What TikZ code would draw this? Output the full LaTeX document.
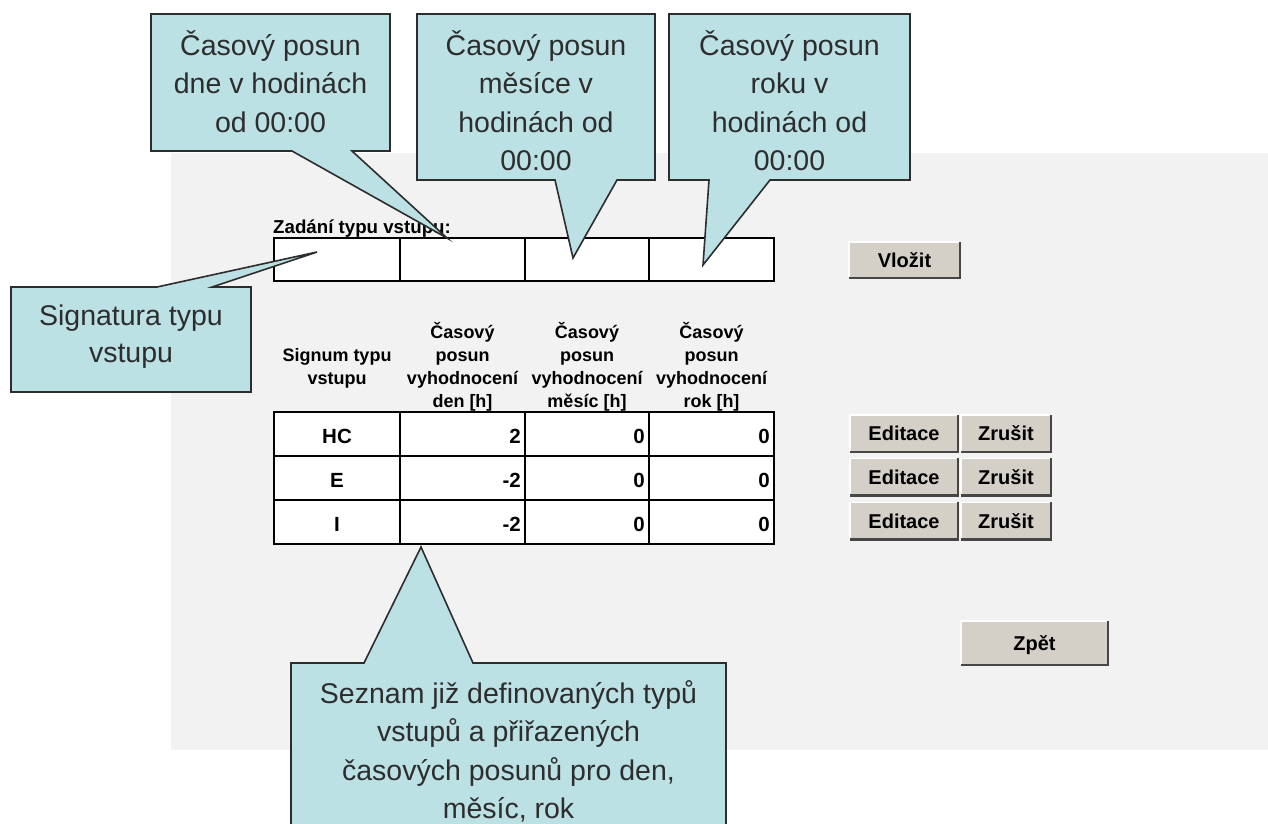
\documentclass[tikz,border=0pt]{standalone}
\usepackage{fontspec}
\setmainfont{Liberation Sans}
\definecolor{cfill}{RGB}{188,225,229}
\definecolor{cline}{RGB}{45,45,45}
\definecolor{ctext}{RGB}{45,45,45}
\definecolor{panel}{RGB}{242,242,242}
\definecolor{btn}{RGB}{212,208,200}
\definecolor{btndark}{RGB}{70,70,70}
\newcommand\btnedges[1]{%
  \draw[white,line width=1.5pt] (#1.south west) -- (#1.north west) -- (#1.north east);
  \draw[btndark,line width=2.5pt] (#1.south west) -- (#1.south east) -- (#1.north east);}
\begin{document}
\begin{tikzpicture}[x=1pt,y=-1pt,
  callout/.style={fill=cfill,draw=cline,line width=1.6pt,line join=miter},
  ctxt/.style={text=ctext,font=\fontsize{28.5}{34}\selectfont,inner sep=0pt,anchor=base},
  cellbox/.style={draw=black,line width=2.8pt,fill=white,inner sep=0pt,outer sep=0pt},
  lbl/.style={font=\bfseries\fontsize{18.7}{22}\selectfont,inner sep=0pt},
  hdr/.style={font=\bfseries\fontsize{18}{22}\selectfont,inner sep=0pt,anchor=base},
  val/.style={font=\bfseries\fontsize{20.5}{22}\selectfont,inner sep=0pt,anchor=base east},
  cval/.style={font=\bfseries\fontsize{20.5}{22}\selectfont,inner sep=0pt,anchor=base},
  btnbox/.style={fill=btn,inner sep=0pt,font=\bfseries\fontsize{20}{22}\selectfont,text height=14pt,text depth=0pt}
]
\useasboundingbox (0,0) rectangle (1268,823);
\clip (0,0) rectangle (1268,823);
\fill[white] (0,0) rectangle (1268,823);
\fill[panel] (171,153) rectangle (1268,750);

% input row
\node[lbl,anchor=base west] (zadani) at (273,233) {Zadání typu vstupu:};
\node[cellbox,minimum width=126pt,minimum height=43pt] (in1) at (337,259.5) {};
\node[cellbox,minimum width=125pt,minimum height=43pt] (in2) at (462.5,259.5) {};
\node[cellbox,minimum width=124pt,minimum height=43pt] (in3) at (587,259.5) {};
\node[cellbox,minimum width=125pt,minimum height=43pt] (in4) at (711.5,259.5) {};

\node[btnbox,minimum width=111pt,minimum height=36pt] (vlozit) at (904.5,260) {Vložit};
\btnedges{vlozit}

% header
\node[hdr] (h1a) at (337,361) {Signum typu};
\node[hdr] (h1b) at (337,384) {vstupu};
\node[hdr] (h2a) at (462.5,338) {Časový};
\node[hdr] (h2b) at (462.5,361) {posun};
\node[hdr] (h2c) at (462.5,384) {vyhodnocení};
\node[hdr] (h2d) at (462.5,407) {den [h]};
\node[hdr] (h3a) at (587,338) {Časový};
\node[hdr] (h3b) at (587,361) {posun};
\node[hdr] (h3c) at (587,384) {vyhodnocení};
\node[hdr] (h3d) at (587,407) {měsíc [h]};
\node[hdr] (h4a) at (711.5,338) {Časový};
\node[hdr] (h4b) at (711.5,361) {posun};
\node[hdr] (h4c) at (711.5,384) {vyhodnocení};
\node[hdr] (h4d) at (711.5,407) {rok [h]};

% data table
\foreach \r/\y in {1/434,2/478,3/522}{
  \node[cellbox,minimum width=126pt,minimum height=44pt] (d\r1) at (337,\y) {};
  \node[cellbox,minimum width=125pt,minimum height=44pt] (d\r2) at (462.5,\y) {};
  \node[cellbox,minimum width=124pt,minimum height=44pt] (d\r3) at (587,\y) {};
  \node[cellbox,minimum width=125pt,minimum height=44pt] (d\r4) at (711.5,\y) {};
}
\node[cval] (v11) at ([yshift=-9pt]d11.center) {HC};
\node[val] (v12) at ([xshift=-4pt,yshift=-9pt]d12.east) {2};
\node[val] (v13) at ([xshift=-4pt,yshift=-9pt]d13.east) {0};
\node[val] (v14) at ([xshift=-4pt,yshift=-9pt]d14.east) {0};
\node[cval] (v21) at ([yshift=-9pt]d21.center) {E};
\node[val] (v22) at ([xshift=-4pt,yshift=-9pt]d22.east) {-2};
\node[val] (v23) at ([xshift=-4pt,yshift=-9pt]d23.east) {0};
\node[val] (v24) at ([xshift=-4pt,yshift=-9pt]d24.east) {0};
\node[cval] (v31) at ([yshift=-9pt]d31.center) {I};
\node[val] (v32) at ([xshift=-4pt,yshift=-9pt]d32.east) {-2};
\node[val] (v33) at ([xshift=-4pt,yshift=-9pt]d33.east) {0};
\node[val] (v34) at ([xshift=-4pt,yshift=-9pt]d34.east) {0};

% buttons
\foreach \r/\y in {1/433.5,2/477,3/521}{
  \node[btnbox,minimum width=108pt,minimum height=37pt] (ed\r) at (904,\y) {Editace};
  \btnedges{ed\r}
  \node[btnbox,minimum width=90pt,minimum height=37pt] (zr\r) at (1006,\y) {Zrušit};
  \btnedges{zr\r}
}
\node[btnbox,minimum width=147pt,minimum height=44pt] (zpet) at (1034.5,643) {Zpět};
\btnedges{zpet}

% callouts
\draw[callout] (151,14) -- (390,14) -- (390,151) -- (352,151) -- (447,238) -- (292,151) -- (151,151) -- cycle;
\foreach \t [count=\i] in {{Časový posun},{dne v hodinách},{od 00:00}}
  \node[ctxt] (ca\i) at (270.5,{55+38.5*(\i-1)}) {\t};

\draw[callout] (417,14) -- (655,14) -- (655,180) -- (617,180) -- (573,258) -- (555,180) -- (417,180) -- cycle;
\foreach \t [count=\i] in {{Časový posun},{měsíce v},{hodinách od},{00:00}}
  \node[ctxt] (cb\i) at (536,{55+38.5*(\i-1)}) {\t};

\draw[callout] (669,14) -- (910,14) -- (910,180) -- (770,180) -- (703,265) -- (709,180) -- (669,180) -- cycle;
\foreach \t [count=\i] in {{Časový posun},{roku v},{hodinách od},{00:00}}
  \node[ctxt] (cc\i) at (789.5,{55+38.5*(\i-1)}) {\t};

\draw[callout] (11,287) -- (157,287) -- (317,252) -- (212,287) -- (251,287) -- (251,392) -- (11,392) -- cycle;
\foreach \t [count=\i] in {{Signatura typu},{vstupu}}
  \node[ctxt] (cd\i) at (131,{325+37*(\i-1)}) {\t};

\draw[callout] (291,663) -- (364,663) -- (421,547) -- (473,663) -- (726,663) -- (726,840) -- (291,840) -- cycle;
\foreach \t [count=\i] in {{Seznam již definovaných typů},{vstupů a přiřazených},{časových posunů pro den,},{měsíc, rok}}
  \node[ctxt] (ce\i) at (508.5,{703+38.5*(\i-1)}) {\t};
\end{tikzpicture}
\end{document}
